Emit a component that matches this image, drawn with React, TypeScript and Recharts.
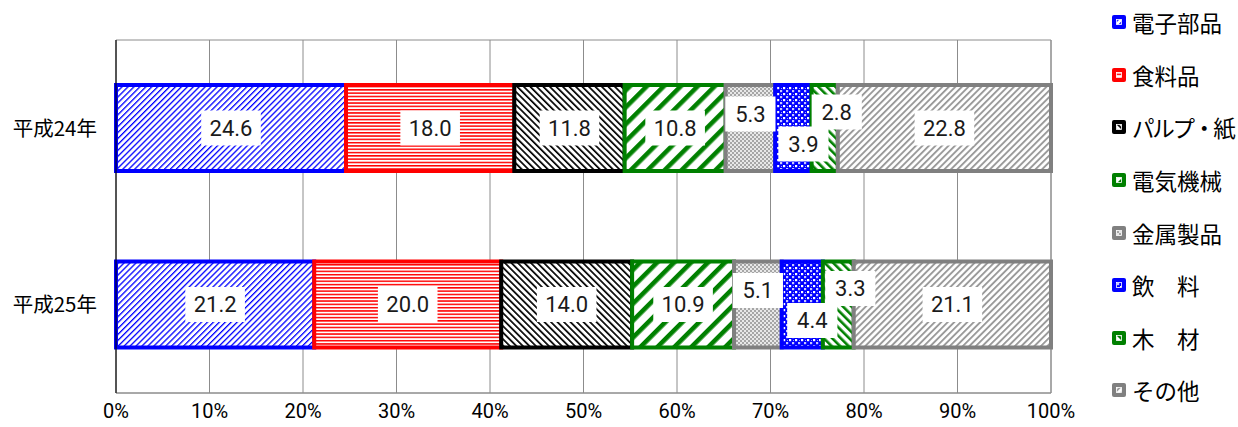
import { Bar, BarChart, CartesianGrid, LabelList, Legend, ReferenceArea, XAxis, YAxis } from "recharts";

const years = ["平成24年", "平成25年"];
const seriesNames = ["電子部品", "食料品", "パルプ・紙", "電気機械", "金属製品", "飲　料", "木　材", "その他"];
const denshi = [24.6, 21.2];
const shokuryo = [18.0, 20.0];
const pulp = [11.8, 14.0];
const denki = [10.8, 10.9];
const kinzoku = [5.3, 5.1];
const inryo = [3.9, 4.4];
const mokuzai = [2.8, 3.3];
const sonota = [22.8, 21.1];
const xTicks = [0, 10, 20, 30, 40, 50, 60, 70, 80, 90, 100];

const seriesValues = [denshi, shokuryo, pulp, denki, kinzoku, inryo, mokuzai, sonota];
const data = years.map((y, i) => {
  const row: Record<string, string | number> = { year: y };
  seriesNames.forEach((n, k) => (row[n] = seriesValues[k][i]));
  return row;
});

const strokes = ["#0000FF", "#FF0000", "#000000", "#008000", "#808080", "#0000FF", "#008000", "#808080"];
const patternIds = ["p-elec", "p-food", "p-pulp", "p-denki", "p-metal", "p-drink", "p-wood", "p-other"];
// manual label nudges for the narrow segments
const labelOffsets = [
  [0, 0], [0, 0], [0, 0], [0, 0], [0, -14], [10, 16], [12, -16], [0, 0],
];

const NUM_FONT = "'Liberation Sans Narrow', 'Arial Narrow', Roboto, sans-serif";
const JP_FONT = "'Liberation Sans Narrow', 'Noto Sans CJK JP', sans-serif";

function Patterns() {
  return (
    <svg width={0} height={0} style={{ position: "absolute" }}>
      <defs>
        <pattern id="p-elec" width={4.2} height={4.2} patternUnits="userSpaceOnUse" patternTransform="rotate(45)">
          <rect width={4.2} height={4.2} fill="#fff" />
          <rect width={1.3} height={4.2} fill="#0000FF" />
        </pattern>
        <pattern id="p-food" width={4} height={3.3} patternUnits="userSpaceOnUse">
          <rect width={4} height={3.3} fill="#fff" />
          <rect width={4} height={1.5} fill="#FF0000" />
        </pattern>
        <pattern id="p-pulp" width={4.6} height={4.6} patternUnits="userSpaceOnUse" patternTransform="rotate(-45)">
          <rect width={4.6} height={4.6} fill="#fff" />
          <rect width={1.7} height={4.6} fill="#000" />
        </pattern>
        <pattern id="p-denki" width={12} height={12} patternUnits="userSpaceOnUse" patternTransform="rotate(45)">
          <rect width={12} height={12} fill="#fff" />
          <rect width={4.6} height={12} fill="#008000" />
        </pattern>
        <pattern id="p-metal" width={4} height={4} patternUnits="userSpaceOnUse">
          <rect width={4} height={4} fill="#e8e8e8" />
          <rect width={2} height={2} fill="#a6a6a6" />
          <rect x={2} y={2} width={2} height={2} fill="#a6a6a6" />
        </pattern>
        <pattern id="p-drink" width={6} height={6} patternUnits="userSpaceOnUse">
          <rect width={6} height={6} fill="#0000FF" />
          <rect x={0} y={0} width={2.2} height={2.2} fill="#c8c8ff" />
          <rect x={3} y={3} width={2.2} height={2.2} fill="#ffffff" />
          <rect x={1} y={4} width={1} height={1} fill="#9a9aff" />
        </pattern>
        <pattern id="p-wood" width={6} height={6} patternUnits="userSpaceOnUse" patternTransform="rotate(-45)">
          <rect width={6} height={6} fill="#fff" />
          <rect width={2.6} height={6} fill="#008000" />
        </pattern>
        <pattern id="p-other" width={4.6} height={4.6} patternUnits="userSpaceOnUse" patternTransform="rotate(45)">
          <rect width={4.6} height={4.6} fill="#fff" />
          <rect width={1.9} height={4.6} fill="#9a9a9a" />
        </pattern>
      </defs>
    </svg>
  );
}

function makeLabel(k: number) {
  // eslint-disable-next-line @typescript-eslint/no-explicit-any
  return (props: any) => {
    const { x, y, width, height, value } = props;
    const text = Number(value).toFixed(1);
    const w = text.length * 9.4 + 22;
    const h = 35;
    const cx = x + width / 2 + labelOffsets[k][0];
    const cy = y + height / 2 + labelOffsets[k][1];
    return (
      <g>
        <rect x={cx - w / 2} y={cy - h / 2} width={w} height={h} fill="#fff" />
        <text x={cx} y={cy} dy="0.36em" textAnchor="middle" fill="#1a1a1a" fontSize={22} fontWeight={400} fontFamily={NUM_FONT}>
          {text}
        </text>
      </g>
    );
  };
}

function LegendBox() {
  return (
    <div style={{ position: "absolute", left: 1111, top: -4, fontFamily: JP_FONT, fontSize: 22.5, color: "#000" }}>
      {seriesNames.map((n, k) => (
        <div key={n} style={{ height: 52.6, display: "flex", alignItems: "center", whiteSpace: "nowrap" }}>
          <svg width={18} height={16} style={{ marginRight: 3 }}>
            <rect x={1} y={1} width={14} height={14} rx={2} fill={strokes[k]} />
            <rect x={5.5} y={5.5} width={5} height={5} fill={`url(#${patternIds[k]})`} stroke="#fff" strokeWidth={0.8} />
          </svg>
          {/* the long name is squeezed a little so it fits the page edge */}
          <span style={{ letterSpacing: n.length > 4 ? -2.2 : 0 }}>{n}</span>
        </div>
      ))}
    </div>
  );
}

export default function App() {
  return (
    <div style={{ position: "absolute", left: 0, top: 0, width: 1238, height: 427, background: "#fff" }}>
      <Patterns />
      <BarChart
        width={1238}
        height={427}
        data={data}
        layout="vertical"
        margin={{ top: 40, right: 187, bottom: 4, left: 0 }}
      >
        <CartesianGrid horizontal={false} stroke="#8c8c8c" strokeWidth={1} />
        <ReferenceArea x1={0} x2={100} fill="none" stroke="#8c8c8c" strokeWidth={1} ifOverflow="extendDomain" />
        <XAxis
          type="number"
          domain={[0, 100]}
          ticks={xTicks}
          tickFormatter={(v) => `${v}%`}
          axisLine={{ stroke: "#8c8c8c" }}
          tickLine={false}
          height={30}
          tickMargin={5}
          tick={{ fill: "#000", fontSize: 20, fontFamily: NUM_FONT }}
          interval={0}
        />
        <YAxis
          type="category"
          dataKey="year"
          width={116}
          axisLine={{ stroke: "#000" }}
          tickLine={false}
          tickMargin={13}
          tick={{ fill: "#000", fontSize: 20.5, fontFamily: JP_FONT }}
        />
        {seriesNames.map((n, k) => (
          <Bar
            key={n}
            dataKey={n}
            stackId="a"
            barSize={86}
            fill={`url(#${patternIds[k]})`}
            stroke={strokes[k]}
            strokeWidth={4}
            isAnimationActive={false}
          >
            <LabelList dataKey={n} content={makeLabel(k)} />
          </Bar>
        ))}
        <Legend content={() => <LegendBox />} wrapperStyle={{ position: "absolute", left: 0, top: 0, width: 0, height: 0 }} />
      </BarChart>
    </div>
  );
}
